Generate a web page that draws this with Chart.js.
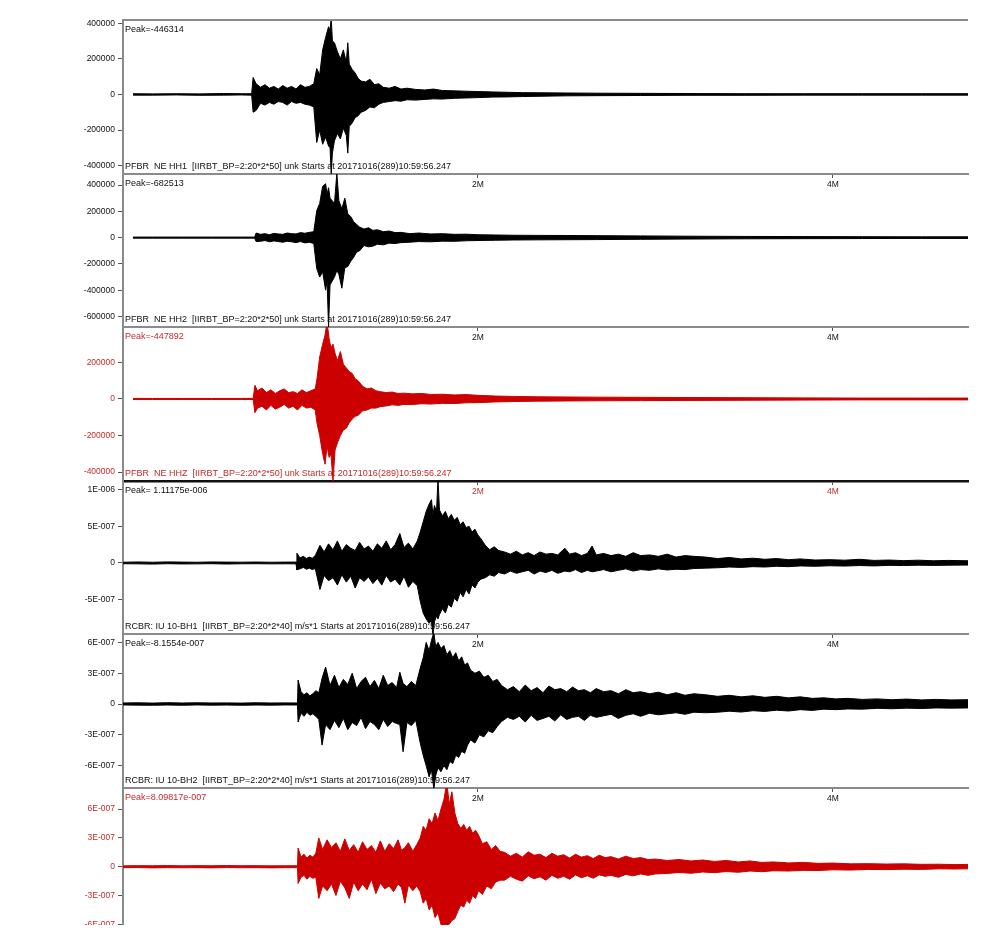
<!DOCTYPE html>
<html>
<head>
<meta charset="utf-8">
<script src="https://cdn.jsdelivr.net/npm/chart.js@4.4.0/dist/chart.umd.min.js"></script>
<style>
body { margin: 0; background: #fff; }
#wrap { position: relative; width: 984px; height: 942px; overflow: hidden; background: #fff; }
#wrap canvas { position: absolute; left: 0; }
.lbl { position: absolute; left: 125px; font: 9px "Liberation Sans", Arial, sans-serif; line-height: 10px; white-space: pre; }
</style>
</head>
<body>
<div id="wrap"></div>
<script>
// time axis, seconds from start of record
const timeTicks = [120, 240];
const timeTickLabels = ['2M', '4M'];

// PFBR NE HH1 (values in 1000 counts) - upper / lower envelope of the trace
const hh1Time = [3.4, 10, 18, 26, 34, 40, 43.5,
  44, 45, 46.5, 48, 49.5, 51, 52.5, 54, 55.5, 57, 58.5, 60, 61.5, 63, 64.5,
  65.5, 66.5, 67.5, 68.5, 69.5, 70, 70.4, 70.8, 71.5, 72.5, 73.5, 74.5, 75.5, 76, 76.5, 77.5, 78.5, 79.5, 80.5,
  82, 83.5, 85, 86.5, 88, 90, 92, 94, 96, 99, 102, 105, 108, 112, 116, 120,
  125, 130, 135, 142, 150, 160, 175, 190, 210, 230, 250, 270, 285.7];
const hh1Up = [4, 3, 4, 3, 5, 4, 4,
  95, 60, 40, 55, 35, 45, 30, 50, 35, 45, 30, 55, 40, 45, 60,
  145, 110, 250, 320, 380, 360, 430, 300, 290, 240, 200, 250, 180, 290, 170, 140, 120, 90, 75,
  70, 85, 55, 60, 40, 35, 45, 30, 35, 28, 25, 30, 22, 20, 18, 16,
  14, 12, 10, 9, 8, 7, 6, 5, 4, 4, 4, 4, 4];
const hh1Down = [-4, -4, -3, -5, -4, -3, -4,
  -100, -90, -50, -60, -45, -55, -40, -45, -60, -40, -50, -45, -55, -60, -70,
  -270, -200, -280, -240, -290, -300, -446, -330, -260, -220, -250, -190, -230, -330, -180, -160, -130, -120, -100,
  -90, -70, -75, -55, -45, -40, -35, -38, -30, -32, -28, -25, -26, -22, -20, -18,
  -15, -14, -12, -10, -8, -7, -6, -5, -5, -4, -4, -4, -4];

// PFBR NE HH2 (1000 counts)
const hh2Time = [3.4, 10, 20, 30, 40, 44.5,
  45, 46.5, 48, 49.5, 51, 52.5, 54, 55.5, 57, 58.5, 60, 61.5, 63, 64.5,
  65.5, 66.5, 67.5, 68.5, 69, 69.5, 70, 71.5, 72.3, 73, 74, 75, 76, 77, 78, 79, 80,
  81.5, 83, 84.5, 86, 88, 90, 92, 94, 97, 100, 104, 108, 112, 116, 120,
  126, 132, 140, 150, 160, 175, 190, 210, 230, 250, 270, 285.7];
const hh2Up = [4, 4, 4, 4, 4, 4,
  35, 25, 30, 22, 32, 28, 25, 35, 30, 28, 38, 33, 40, 45,
  205, 260, 390, 410, 330, 380, 300, 260, 490, 280, 220, 300, 180, 160, 120, 100, 80,
  65, 75, 55, 60, 45, 50, 38, 40, 30, 35, 28, 30, 25, 26, 22,
  20, 18, 17, 16, 15, 13, 11, 9, 8, 7, 6, 6];
const hh2Down = [-4, -4, -4, -4, -4, -4,
  -30, -28, -22, -32, -25, -30, -35, -28, -32, -38, -30, -40, -35, -45,
  -235, -300, -260, -400, -330, -682, -360, -300, -250, -280, -385, -230, -220, -180, -150, -110, -100,
  -60, -70, -65, -50, -55, -42, -45, -38, -35, -30, -32, -27, -28, -24, -22,
  -20, -18, -17, -16, -15, -13, -11, -9, -8, -7, -6, -6];

// PFBR NE HHZ (1000 counts)
const hhzTime = [3.4, 10, 20, 30, 40, 44,
  44.6, 45.5, 47, 48.5, 50, 51.5, 53, 54.5, 56, 57.5, 59, 60.5, 62, 63.5, 65,
  65.6, 66.5, 67.5, 68.3, 69, 69.7, 70.3, 71, 71.7, 72.5, 73.5, 74.5, 75.5, 76.5, 77.5, 78.5, 79.5,
  81, 82.5, 84, 85.5, 87, 89, 91, 93, 95, 98, 101, 104, 108, 112, 116, 120,
  126, 132, 140, 150, 160, 175, 190, 210, 230, 250, 270, 285.7];
const hhzUp = [3, 3, 3, 3, 3, 3,
  75, 45, 60, 35, 50, 30, 45, 55, 35, 40, 30, 50, 35, 45, 55,
  112, 230, 300, 350, 420, 330, 280, 300, 250, 210, 260, 190, 170, 150, 140, 110, 100,
  70, 55, 60, 45, 40, 35, 38, 30, 32, 28, 30, 25, 26, 22, 24, 20,
  16, 14, 12, 11, 10, 9, 8, 7, 6, 5, 5, 5];
const hhzDown = [-3, -3, -3, -3, -3, -3,
  -75, -50, -40, -60, -35, -55, -45, -30, -50, -40, -60, -35, -50, -45, -60,
  -133, -200, -300, -357, -260, -320, -300, -448, -280, -240, -200, -170, -160, -130, -110, -95, -90,
  -65, -60, -50, -50, -42, -38, -32, -35, -30, -30, -26, -28, -24, -25, -21, -20,
  -16, -14, -12, -11, -10, -9, -8, -7, -6, -5, -5, -5];

// RCBR IU 10-BH1 (1e-9 m/s)
const bh1Time = [0, 5, 10, 15, 20, 25, 30, 35, 40, 45, 50, 55, 58.5,
  58.8, 59.8, 61, 62, 63, 64, 65,
  66.6, 68, 69.5, 71, 72.5, 74, 75.5, 77, 78.5, 80, 81.5, 83, 84.5, 86, 87.5, 89, 90.5, 92, 93.6, 95, 96.5, 98, 99.5,
  100.5, 101.5, 102.5, 103.5, 104.3, 104.8, 105.3, 106, 106.5, 107, 108, 109, 110, 111, 112, 113, 114, 115, 116, 117, 118, 119, 120, 121,
  122.5, 124, 125.5, 127, 129, 131, 133, 135, 137, 139, 141, 143, 145, 147, 149.4, 151, 153, 155, 157, 158.6, 160, 162.5, 165, 167.5, 170, 172.5, 175, 178, 181, 184, 187, 190, 193,
  197, 201, 205, 209, 213, 217, 221, 225, 229, 234, 239, 244, 249, 254, 259, 264, 269, 274, 279, 285.7];
const bh1Up = [10, 14, 10, 15, 12, 10, 14, 12, 11, 13, 10, 12, 12,
  133, 70, 90, 60, 80, 65, 100,
  240, 150, 260, 180, 300, 160, 250, 200, 170, 280, 190, 230, 160, 260, 200, 300, 180, 250, 400, 210, 270, 190, 300,
  420, 560, 700, 800, 860, 650, 780, 700, 1150, 720, 640, 700, 600, 660, 580, 620, 520, 560, 480, 500, 420, 460, 380, 330,
  240, 180, 220, 170, 150, 120, 160, 110, 140, 100, 150, 120, 130, 110, 200, 120, 140, 100, 130, 230, 110, 130, 100, 120, 90, 140, 100, 110, 90, 120, 80, 100, 90,
  80, 60, 75, 55, 65, 50, 60, 45, 55, 40, 45, 38, 50, 35, 40, 32, 38, 30, 35, 30];
const bh1Down = [-10, -12, -15, -10, -13, -12, -10, -14, -11, -10, -12, -11, -12,
  -93, -80, -60, -85, -70, -90, -75,
  -360, -170, -240, -200, -300, -160, -260, -180, -340, -200, -250, -190, -280, -210, -300, -170, -260, -220, -300, -180, -330, -250, -310,
  -520, -680, -760, -820, -780, -990, -800, -720, -760, -700, -620, -680, -560, -600, -480, -520, -400, -460, -360, -420, -300, -340, -260, -220,
  -200, -160, -180, -130, -150, -110, -140, -120, -100, -150, -110, -130, -100, -140, -110, -120, -90, -130, -100, -120, -110, -90, -120, -100, -80, -110, -90, -100, -80, -95, -85, -90, -75,
  -70, -65, -55, -60, -50, -55, -45, -50, -40, -45, -38, -42, -35, -40, -32, -35, -30, -33, -30, -28];

// RCBR IU 10-BH2 (1e-9 m/s)
const bh2Time = [0, 5, 10, 15, 20, 25, 30, 35, 40, 45, 50, 55, 59,
  59.2, 60.2, 61.2, 62.2, 63.2, 64.2, 65.2, 66.2,
  67.3, 68.5, 70, 71.5, 73, 74.5, 76, 77.5, 79, 80.5, 82, 83.5, 85, 86.5, 88, 89.5, 91, 92.5, 93.6, 94.7, 96, 97.5, 99,
  100.5, 101.5, 102.5, 103.5, 104.3, 105.1, 105.7, 106.5, 107.5, 108.5, 109.5, 110.5, 111.5, 112.5, 113.5, 114.5, 115.5, 116.5, 117.5, 119, 120.5, 122, 123.5, 125, 126.5,
  128, 130, 132, 134, 136, 138, 140, 142, 144, 146, 148, 150, 152, 154, 156, 158, 160, 162.5, 165, 167.5, 170, 172.5, 175, 178, 181, 184, 187, 190, 193,
  197, 201, 205, 209, 213, 217, 221, 225, 229, 233, 237, 241, 245, 250, 255, 260, 265, 270, 275, 280, 285.7];
const bh2Up = [10, 12, 9, 13, 10, 12, 10, 11, 9, 12, 10, 11, 10,
  233, 120, 90, 110, 80, 100, 130, 110,
  250, 360, 180, 280, 160, 240, 190, 300, 150, 220, 260, 170, 230, 150, 280, 180, 210, 160, 310, 200, 170, 220, 180,
  350, 450, 600, 520, 620, 700, 560, 600, 540, 570, 480, 520, 450, 500, 420, 460, 380, 400, 330, 300, 320, 260, 280, 220, 240,
  180, 140, 170, 120, 185, 130, 160, 110, 175, 140, 150, 120, 165, 130, 140, 110, 150, 120, 130, 100, 140, 110, 120, 100, 115, 90, 110, 85, 100,
  90, 75, 85, 70, 80, 65, 75, 60, 70, 55, 60, 50, 55, 45, 50, 42, 48, 40, 45, 40, 42];
const bh2Down = [-9, -11, -12, -10, -12, -9, -11, -10, -12, -10, -11, -9, -10,
  -175, -90, -120, -80, -110, -95, -120, -150,
  -400, -200, -250, -160, -230, -140, -250, -180, -210, -130, -240, -170, -200, -250, -150, -220, -170, -190, -200, -465, -180, -210, -160,
  -380, -500, -600, -710, -640, -830, -700, -620, -660, -600, -640, -560, -580, -500, -520, -460, -480, -400, -350, -380, -300, -320, -260, -280, -220,
  -170, -130, -150, -120, -175, -110, -160, -140, -120, -165, -105, -150, -130, -120, -160, -110, -130, -115, -100, -140, -110, -95, -120, -90, -105, -95, -85, -100, -80,
  -85, -80, -70, -78, -65, -72, -60, -68, -55, -62, -50, -55, -48, -50, -42, -46, -40, -44, -38, -40, -38];

// RCBR IU 10-BHZ (1e-9 m/s)
const bhzTime = [0, 5, 10, 15, 20, 25, 30, 35, 40, 45, 50, 55, 59,
  59.2, 60.2, 61.2, 62.2, 63.2, 64.2, 65.2,
  66.2, 67.5, 69, 70.5, 72, 73.5, 75, 76.5, 78, 79.5, 81, 82.5, 84, 85.5, 87, 88.5, 90, 91.5, 93, 94.2, 95.3, 96.5, 98, 99.3,
  100.5, 101.5, 102.5, 103.5, 104.5, 105.5, 106.5, 107.5, 108.5, 109.5, 110.3, 111.2, 112.2, 113.2, 114.2, 115.2, 116.2, 117.2, 118.2, 119.2, 120.2, 121.5, 123, 124.5, 126, 127.5,
  129, 131, 133, 135, 137, 139, 141, 143, 145, 147, 149, 151, 153, 155, 157, 159, 161, 163, 165, 167.5, 170, 172.5, 175, 177.5,
  180, 184, 188, 192, 196, 200, 204, 208, 212, 216, 220, 225, 230, 235, 240, 246, 252, 258, 264, 270, 276, 281, 285.7];
const bhzUp = [9, 11, 10, 12, 9, 11, 10, 12, 10, 11, 9, 10, 10,
  195, 100, 130, 90, 120, 100, 140,
  300, 180, 280, 200, 250, 160, 290, 170, 230, 150, 260, 180, 220, 150, 270, 160, 240, 190, 280, 170, 200, 250, 160, 230,
  300, 420, 380, 500, 450, 560, 480, 600, 700, 880, 650, 780, 560, 450, 400, 440, 380, 420, 350, 380, 330, 240, 260, 180, 220, 160,
  150, 110, 140, 100, 155, 120, 130, 95, 140, 110, 125, 90, 130, 100, 115, 85, 120, 95, 105, 80, 110, 85, 95, 75,
  80, 65, 75, 60, 70, 55, 65, 50, 60, 45, 50, 40, 45, 35, 38, 30, 32, 28, 30, 25, 26, 22, 24];
const bhzDown = [-10, -9, -12, -10, -11, -10, -12, -9, -11, -10, -12, -10, -10,
  -175, -110, -90, -130, -100, -120, -110,
  -330, -200, -250, -180, -300, -150, -220, -330, -160, -250, -180, -240, -130, -280, -170, -230, -200, -260, -180, -220, -380, -190, -250, -200,
  -260, -380, -330, -450, -400, -530, -480, -600, -650, -620, -600, -560, -540, -465, -400, -420, -350, -380, -300, -330, -250, -290, -200, -230, -160, -140,
  -140, -100, -130, -150, -95, -125, -105, -140, -90, -120, -100, -130, -85, -115, -95, -120, -85, -100, -90, -110, -80, -95, -75, -90,
  -75, -70, -60, -68, -55, -62, -50, -58, -45, -52, -42, -45, -38, -40, -32, -35, -28, -30, -26, -28, -22, -24, -22];

// amplitude axis ticks
const hh1Ticks = [400000, 200000, 0, -200000, -400000];
const hh1TickLabels = ['400000', '200000', '0', '-200000', '-400000'];
const hh2Ticks = [400000, 200000, 0, -200000, -400000, -600000];
const hh2TickLabels = ['400000', '200000', '0', '-200000', '-400000', '-600000'];
const hhzTicks = [200000, 0, -200000, -400000];
const hhzTickLabels = ['200000', '0', '-200000', '-400000'];
const bh1Ticks = [1e-6, 5e-7, 0, -5e-7];
const bh1TickLabels = ['1E-006', '5E-007', '0', '-5E-007'];
const bh2Ticks = [6e-7, 3e-7, 0, -3e-7, -6e-7];
const bh2TickLabels = ['6E-007', '3E-007', '0', '-3E-007', '-6E-007'];
const bhzTicks = [6e-7, 3e-7, 0, -3e-7, -6e-7];
const bhzTickLabels = ['6E-007', '3E-007', '0', '-3E-007', '-6E-007'];

const peaks = ['Peak=-446314', 'Peak=-682513', 'Peak=-447892', 'Peak= 1.11175e-006', 'Peak=-8.1554e-007', 'Peak=8.09817e-007'];
const names = [
  'PFBR  NE HH1  [IIRBT_BP=2:20*2*50] unk Starts at 20171016(289)10:59:56.247',
  'PFBR  NE HH2  [IIRBT_BP=2:20*2*50] unk Starts at 20171016(289)10:59:56.247',
  'PFBR  NE HHZ  [IIRBT_BP=2:20*2*50] unk Starts at 20171016(289)10:59:56.247',
  'RCBR: IU 10-BH1  [IIRBT_BP=2:20*2*40] m/s*1 Starts at 20171016(289)10:59:56.247',
  'RCBR: IU 10-BH2  [IIRBT_BP=2:20*2*40] m/s*1 Starts at 20171016(289)10:59:56.247',
  ''
];

const BLACK = '#000000';
const RED = '#cc0000';
const RED_TXT = '#c42a2a';
const PAD = 8, XH = 17, AXIS_W = 123;

let panels = [
  {t: hh1Time, up: hh1Up, down: hh1Down, unit: 1e3, min: -447000, max: 418000, ticks: hh1Ticks, labels: hh1TickLabels, red: false, top: 20, h: 154},
  {t: hh2Time, up: hh2Up, down: hh2Down, unit: 1e3, min: -680000, max: 484000, ticks: hh2Ticks, labels: hh2TickLabels, red: false, top: 174, h: 153},
  {t: hhzTime, up: hhzUp, down: hhzDown, unit: 1e3, min: -449000, max: 394000, ticks: hhzTicks, labels: hhzTickLabels, red: true, top: 327, h: 154},
  {t: bh1Time, up: bh1Up, down: bh1Down, unit: 1e-9, min: -9.65e-7, max: 1.114e-6, ticks: bh1Ticks, labels: bh1TickLabels, red: false, top: 481, h: 153},
  {t: bh2Time, up: bh2Up, down: bh2Down, unit: 1e-9, min: -8.18e-7, max: 6.82e-7, ticks: bh2Ticks, labels: bh2TickLabels, red: false, top: 634, h: 154},
  {t: bhzTime, up: bhzUp, down: bhzDown, unit: 1e-9, min: -6.07e-7, max: 8.2e-7, ticks: bhzTicks, labels: bhzTickLabels, red: true, top: 788, h: 137},
];

Chart.defaults.font.family = '"Liberation Sans", Arial, sans-serif';
Chart.defaults.font.size = 8.5;

let topLine = {
  id: 'topLine',
  afterDraw(chart) {
    let {ctx, chartArea: a} = chart;
    ctx.save();
    ctx.strokeStyle = '#8a8a8a';
    ctx.lineWidth = 2;
    ctx.beginPath();
    ctx.moveTo(a.left, a.top);
    ctx.lineTo(a.right, a.top);
    ctx.stroke();
    ctx.restore();
  }
};

let wrap = document.getElementById('wrap');

panels.forEach((p, i) => {
  let hasX = i < panels.length - 1;
  let xh = hasX ? XH : 0;
  let cv = document.createElement('canvas');
  cv.width = 984;
  cv.height = PAD + p.h + xh;
  cv.style.top = (p.top - PAD) + 'px';
  wrap.appendChild(cv);

  let col = p.red ? RED : BLACK;
  let txt = p.red ? RED_TXT : '#111';
  let upPts = p.t.map((t, k) => ({x: t, y: p.up[k] * p.unit}));
  let downPts = p.t.map((t, k) => ({x: t, y: p.down[k] * p.unit}));

  new Chart(cv.getContext('2d'), {
    type: 'line',
    data: {
      datasets: [{
        data: upPts, borderColor: col, backgroundColor: col, borderWidth: 1,
        pointRadius: 0, tension: 0, fill: '+1'
      }, {
        data: downPts, borderColor: col, backgroundColor: col, borderWidth: 1,
        pointRadius: 0, tension: 0, fill: false
      }]
    },
    options: {
      responsive: false,
      animation: false,
      events: [],
      layout: {padding: {left: 0, right: 984 - 968, top: PAD, bottom: 0}},
      plugins: {legend: {display: false}, tooltip: {enabled: false}},
      scales: {
        x: {
          type: 'linear', min: 0, max: 285.7, display: hasX, position: 'bottom',
          afterBuildTicks: s => { s.ticks = timeTicks.map(v => ({value: v})); },
          afterFit: s => { s.height = xh; s.paddingLeft = 0; s.paddingRight = 0; },
          ticks: {autoSkip: false, maxRotation: 0, color: txt, padding: 2,
                  callback: v => timeTickLabels[timeTicks.indexOf(v)]},
          grid: {drawOnChartArea: false, tickLength: 4, color: '#555'},
          border: {color: i === 2 ? '#111' : '#8a8a8a', width: i === 2 ? 2.5 : 2}
        },
        y: {
          type: 'linear', min: p.min, max: p.max,
          afterBuildTicks: s => { s.ticks = p.ticks.map(v => ({value: v})); },
          afterFit: s => { s.width = AXIS_W; s.paddingTop = 0; s.paddingBottom = 0; },
          ticks: {autoSkip: false, color: txt, padding: 3,
                  callback: v => p.labels[p.ticks.indexOf(v)]},
          grid: {drawOnChartArea: false, tickLength: 5, color: '#555'},
          border: {color: '#8a8a8a', width: 2}
        }
      }
    },
    plugins: i === 0 ? [topLine] : []
  });
});

// peak value and channel line of each trace
panels.forEach((p, i) => {
  let color = p.red ? RED_TXT : '#111';
  let pk = document.createElement('div');
  pk.className = 'lbl';
  pk.style.top = (p.top + 4) + 'px';
  pk.style.color = color;
  pk.textContent = peaks[i];
  wrap.appendChild(pk);
  if (names[i]) {
    let nm = document.createElement('div');
    nm.className = 'lbl';
    nm.style.top = (p.top + p.h - 13) + 'px';
    nm.style.color = color;
    nm.textContent = names[i];
    wrap.appendChild(nm);
  }
});
</script>
</body>
</html>
